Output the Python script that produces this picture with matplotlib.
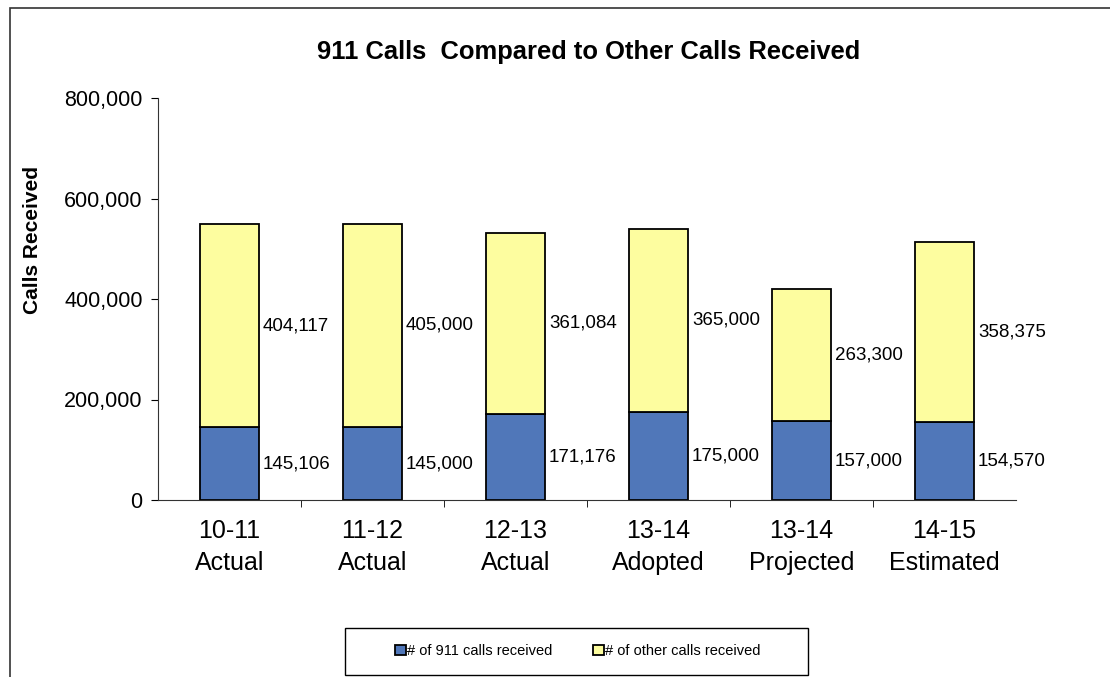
import numpy as np
import matplotlib
matplotlib.use("Agg")
import matplotlib.pyplot as plt
from matplotlib.patches import Rectangle
from matplotlib.ticker import FuncFormatter, FixedLocator

plt.rcParams["font.family"] = ["Liberation Sans", "DejaVu Sans"]

categories = ["10-11\nActual", "11-12\nActual", "12-13\nActual",
              "13-14\nAdopted", "13-14\nProjected", "14-15\nEstimated"]
calls_911 = [145106, 145000, 171176, 175000, 157000, 154570]
calls_other = [404117, 405000, 361084, 365000, 263300, 358375]

BLUE = "#5077b9"
YELLOW = "#fdfd9f"

fig = plt.figure(figsize=(11.1, 6.77), dpi=100)
ax = fig.add_axes([158 / 1110, 1 - 500 / 677, 858 / 1110, 402 / 677])

x = np.arange(len(categories))
w = 0.41
b1 = ax.bar(x, calls_911, w, color=BLUE, edgecolor="black", lw=1.3,
            label="# of 911 calls received")
b2 = ax.bar(x, calls_other, w, bottom=calls_911, color=YELLOW,
            edgecolor="black", lw=1.3, label="# of other calls received")

for xi, lo, hi in zip(x, calls_911, calls_other):
    ax.text(xi + w / 2 + 0.03, lo / 2, f"{lo:,}", ha="left", va="center",
            fontsize=13.5)
    ax.text(xi + w / 2 + 0.03, lo + hi / 2, f"{hi:,}", ha="left",
            va="center", fontsize=13.5)

ax.set_xlim(-0.5, len(categories) - 0.5)
ax.set_ylim(0, 800000)
ax.set_yticks([0, 200000, 400000, 600000, 800000])
ax.yaxis.set_major_formatter(FuncFormatter(lambda v, p: f"{int(v):,}"))
ax.tick_params(axis="y", labelsize=15.5, length=5, direction="out", pad=6)
ax.set_xticks(x)
ax.set_xticklabels(categories, fontsize=18, linespacing=1.4)
ax.tick_params(axis="x", which="major", length=0, pad=14)
ax.xaxis.set_minor_locator(FixedLocator(x[:-1] + 0.5))
ax.tick_params(axis="x", which="minor", length=5, direction="out")
for s in ("top", "right"):
    ax.spines[s].set_visible(False)
ax.spines["left"].set_color("#333333")
ax.spines["bottom"].set_color("#333333")

fig.text(33 / 1110, 1 - 240 / 677, "Calls Received", rotation=90,
         ha="center", va="center", fontsize=15, fontweight="bold")
fig.text(589 / 1110, 1 - 52 / 677, "911 Calls  Compared to Other Calls Received",
         ha="center", va="center", fontsize=18.4, fontweight="bold")

# outer chart frame
fig.add_artist(Rectangle((10 / 1110, -0.02), 1.05, 1 - 8 / 677 + 0.02,
                         transform=fig.transFigure, fill=False,
                         edgecolor="#333333", lw=1.2, clip_on=False))

# legend box
fig.add_artist(Rectangle((345 / 1110, 1 - 675 / 677), 463 / 1110, 47 / 677,
                         transform=fig.transFigure, fill=False,
                         edgecolor="black", lw=1.0))
fig.legend(handles=[b1, b2], loc="center", ncol=2, frameon=False,
           bbox_to_anchor=(578 / 1110, 1 - 651 / 677), fontsize=10.5,
           handlelength=0.7, handleheight=0.7, handletextpad=0.1,
           columnspacing=2.8)

fig.savefig("out.png", dpi=100)
